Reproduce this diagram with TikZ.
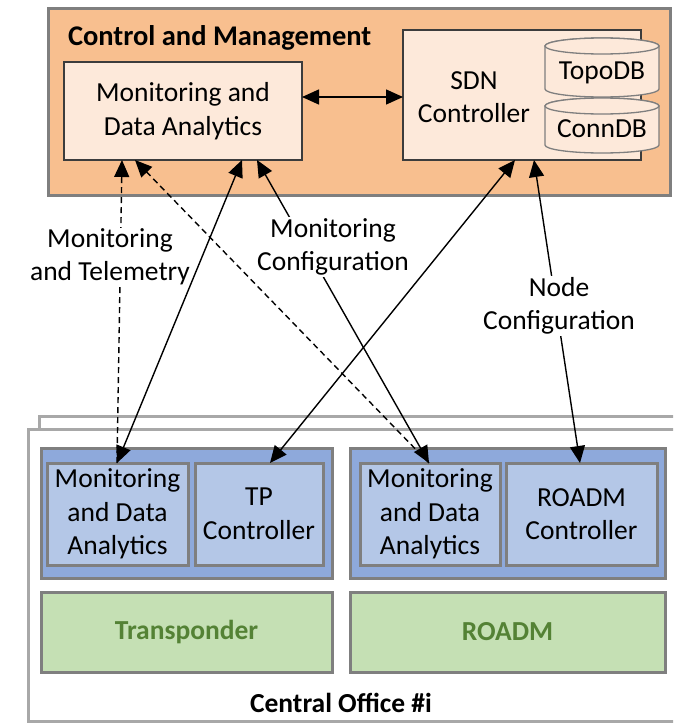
\documentclass[tikz,border=0pt]{standalone}
\usepackage{fontspec}
\setmainfont{Carlito}
\usetikzlibrary{arrows.meta,calc}
\definecolor{cmfill}{RGB}{248,191,143}
\definecolor{peach}{RGB}{253,233,218}
\definecolor{blueout}{RGB}{142,169,219}
\definecolor{bluein}{RGB}{180,199,231}
\definecolor{greenbox}{RGB}{197,224,180}
\definecolor{greentext}{RGB}{84,130,53}
\definecolor{edgegray}{RGB}{127,127,127}
\definecolor{framegray}{RGB}{168,168,168}
\definecolor{darkedge}{RGB}{60,60,60}
\tikzset{
  bigtri/.tip={Triangle[length=17pt,width=15pt]},
  every node/.style={font=\fontsize{27.5}{33.5}\selectfont, inner sep=0pt, outer sep=0pt},
  panel/.style={rectangle, draw=edgegray, line width=3pt},
  topbox/.style={rectangle, draw=darkedge, fill=peach, line width=1.6pt, align=center},
  blueouter/.style={panel, fill=blueout},
  blueinner/.style={panel, fill=bluein, align=center},
  hwbox/.style={panel, fill=greenbox, text=greentext, font=\fontsize{27.5}{33.5}\selectfont\bfseries},
  dbbody/.style={fill=peach, draw=edgegray, line width=1.3pt},
  link/.style={line width=1.4pt, draw=black},
  dashlink/.style={link, dash pattern=on 6pt off 4pt},
  lbl/.style={fill=white, align=center, inner sep=1pt},
}
\begin{document}
\begin{tikzpicture}[x=1pt,y=-1pt]
\useasboundingbox (0,0) rectangle (673,723);
\clip (0,0) rectangle (673,723);
\fill[white] (0,0) rectangle (673,723);

% central office frames (stacked)
\draw[framegray, line width=3pt, fill=white] (39,416) rectangle (700,745);
\draw[framegray, line width=3pt, fill=white] (28,429) rectangle (700,721);

% control and management domain
\node[panel, fill=cmfill, minimum width=622pt, minimum height=187pt] (cm) at (359,101.5) {};
\node[anchor=west, font=\fontsize{28.5}{34}\selectfont\bfseries] (cmtitle) at (68,38) {Control and Management};
\node[topbox, minimum width=238pt, minimum height=98pt] (mdatop) at (183,111) {Monitoring and\\Data Analytics};
\node[topbox, minimum width=238pt, minimum height=130pt] (sdn) at (522,95) {};
\node[align=center] (sdntext) at (474,97) {SDN\\Controller};

% databases
\filldraw[dbbody] (545,46) -- (545,89) arc[start angle=180, end angle=360, x radius=57pt, y radius=8pt]
  -- (659,46) arc[start angle=0, end angle=180, x radius=57pt, y radius=8pt] -- cycle;
\draw[dbbody] (602,46) ellipse[x radius=57pt, y radius=8pt];
\node (topo) at (602,73) {TopoDB};
\filldraw[dbbody] (545,106) -- (545,145) arc[start angle=180, end angle=360, x radius=57pt, y radius=8pt]
  -- (659,106) arc[start angle=0, end angle=180, x radius=57pt, y radius=8pt] -- cycle;
\draw[dbbody] (602,106) ellipse[x radius=57pt, y radius=8pt];
\node (conn) at (602,129) {ConnDB};

% transponder side
\node[blueouter, minimum width=291pt, minimum height=130pt] (tpgrp) at (186.5,513) {};
\node[blueinner, minimum width=141pt, minimum height=102pt] (mdal) at (117.5,514) {Monitoring\\and Data\\Analytics};
\node[blueinner, minimum width=128pt, minimum height=102pt] (tpc) at (259,514) {TP\\Controller};
\node[hwbox, minimum width=291pt, minimum height=80pt] (trans) at (186.5,632) {Transponder};

% ROADM side
\node[blueouter, minimum width=315pt, minimum height=130pt] (rdgrp) at (507.5,513) {};
\node[blueinner, minimum width=140pt, minimum height=102pt] (mdar) at (430,514) {Monitoring\\and Data\\Analytics};
\node[blueinner, minimum width=151pt, minimum height=102pt] (rdc) at (581.5,514) {ROADM\\Controller};
\node[hwbox, minimum width=315pt, minimum height=80pt] (roadm) at (507.5,632) {ROADM};

\node[font=\fontsize{27.5}{33.5}\selectfont\bfseries] (co) at (341,703) {Central Office \#i};

% connector end points
\coordinate (aTop) at ($(mdatop.south west)+(58,0)$);
\coordinate (bTop) at ($(mdatop.south west)+(71,0)$);
\coordinate (cTop) at ($(mdatop.south west)+(178,0)$);
\coordinate (dTop) at ($(mdatop.south west)+(193,0)$);
\coordinate (eTop) at ($(sdn.south west)+(112,0)$);
\coordinate (fTop) at ($(sdn.south west)+(131,0)$);
\coordinate (lBot) at ($(mdal.north west)+(70,0)$);
\coordinate (rBot) at ($(mdar.north west)+(69,0)$);
\coordinate (tBot) at ($(tpc.north west)+(75,0)$);
\coordinate (nBot) at ($(rdc.north west)+(74,0)$);

% telemetry (dashed)
\draw[dashlink, -bigtri] (lBot) -- (aTop);
\draw[dashlink, -bigtri] (rBot) -- (bTop);
% configuration links
\draw[link, bigtri-bigtri] (dTop) -- (rBot);
\draw[link, bigtri-bigtri] (fTop) -- (nBot);

\node[lbl] (lmt) at (110,257) {Monitoring\\and Telemetry};
\node[lbl] (lmc) at (333,247) {Monitoring\\Configuration};
\node[lbl] (lnc) at (559,306) {Node\\Configuration};

\draw[link, bigtri-bigtri] (cTop) -- (lBot);
\draw[link, bigtri-bigtri] (eTop) -- (tBot);
\draw[link, bigtri-bigtri] ($(mdatop.north east)+(0,35)$) -- ($(sdn.north west)+(0,67)$);
\end{tikzpicture}
\end{document}
